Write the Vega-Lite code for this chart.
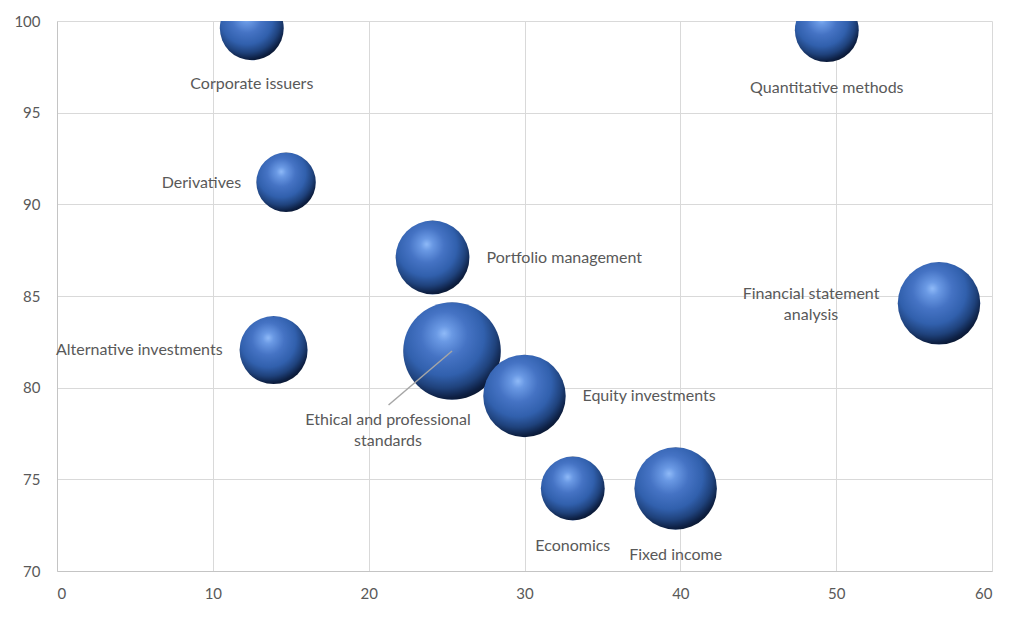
{
  "$schema": "https://vega.github.io/schema/vega-lite/v6.json",
  "width": 935,
  "height": 550,
  "autosize": {"type": "none"},
  "padding": {"left": 57, "top": 21, "right": 32, "bottom": 46},
  "background": "white",
  "config": {
    "font": "Lato",
    "view": {"stroke": null},
    "axis": {
      "grid": true,
      "gridColor": "#d9d9d9",
      "gridWidth": 1,
      "domainColor": "#c4c4c4",
      "domainWidth": 1,
      "ticks": false,
      "labelColor": "#595959",
      "labelFont": "Lato",
      "labelFontSize": 15,
      "title": null
    }
  },
  "data": {
    "values": [
      {"topic": "Corporate issuers", "score": 99.6, "x": 12.5, "weight": 7.5},
      {"topic": "Quantitative methods", "score": 99.5, "x": 49.4, "weight": 7.5},
      {"topic": "Derivatives", "score": 91.2, "x": 14.7, "weight": 6.5},
      {"topic": "Portfolio management", "score": 87.1, "x": 24.1, "weight": 10},
      {"topic": "Financial statement analysis", "score": 84.6, "x": 56.6, "weight": 12.5},
      {"topic": "Alternative investments", "score": 82.05, "x": 13.9, "weight": 8.5},
      {"topic": "Ethical and professional standards", "score": 82.0, "x": 25.35, "weight": 17.5},
      {"topic": "Equity investments", "score": 79.55, "x": 30.0, "weight": 12.5},
      {"topic": "Economics", "score": 74.5, "x": 33.1, "weight": 7.5},
      {"topic": "Fixed income", "score": 74.5, "x": 39.7, "weight": 12.5}
    ]
  },
  "encoding": {
    "x": {
      "field": "x",
      "type": "quantitative",
      "scale": {"domain": [0, 60], "nice": false, "zero": false},
      "axis": {"values": [0, 10, 20, 30, 40, 50, 60], "labelPadding": 15}
    },
    "y": {
      "field": "score",
      "type": "quantitative",
      "scale": {"domain": [70, 100], "nice": false, "zero": false},
      "axis": {"values": [70, 75, 80, 85, 90, 95, 100], "labelPadding": 17}
    }
  },
  "layer": [
    {
      "mark": {
        "type": "circle",
        "clip": true,
        "opacity": 1,
        "stroke": null,
        "fill": {
          "gradient": "radial",
          "x1": 0.42, "y1": 0.32, "r1": 0,
          "x2": 0.42, "y2": 0.36, "r2": 0.68,
          "stops": [
            {"offset": 0, "color": "#8fbaf8"},
            {"offset": 0.12, "color": "#6a99e4"},
            {"offset": 0.35, "color": "#4573c4"},
            {"offset": 0.6, "color": "#3160ad"},
            {"offset": 0.78, "color": "#1f427c"},
            {"offset": 0.92, "color": "#0d1f42"},
            {"offset": 1, "color": "#09152c"}
          ]
        }
      },
      "encoding": {
        "size": {
          "field": "weight",
          "type": "quantitative",
          "scale": {"domain": [0, 17.5], "range": [0, 9526]},
          "legend": null
        }
      }
    },
    {
      "transform": [{"filter": "datum.topic === 'Ethical and professional standards'"}],
      "mark": {
        "type": "point",
        "shape": "M0,0L-1.27,1.08",
        "size": 10000,
        "filled": false,
        "fill": null,
        "stroke": "#a6a6a6",
        "strokeWidth": 1.5,
        "opacity": 1
      }
    },
    {
      "mark": {
        "type": "text",
        "fontSize": 16,
        "color": "#595959",
        "baseline": "middle",
        "lineHeight": 21,
        "align": {"expr": "indexof(['Derivatives', 'Alternative investments'], datum.topic) >= 0 ? 'right' : indexof(['Portfolio management', 'Equity investments'], datum.topic) >= 0 ? 'left' : 'center'"},
        "dx": {"expr": "datum.topic === 'Derivatives' ? -45 : datum.topic === 'Alternative investments' ? -51 : datum.topic === 'Portfolio management' ? 54 : datum.topic === 'Equity investments' ? 58 : datum.topic === 'Financial statement analysis' ? -128 : datum.topic === 'Ethical and professional standards' ? -64 : 0"},
        "dy": {"expr": "datum.topic === 'Corporate issuers' ? 56 : datum.topic === 'Quantitative methods' ? 58 : datum.topic === 'Economics' ? 57 : datum.topic === 'Fixed income' ? 66 : datum.topic === 'Ethical and professional standards' ? 68.5 : datum.topic === 'Derivatives' ? 1 : datum.topic === 'Financial statement analysis' ? -9.5 : 0"},
        "text": {"expr": "datum.topic === 'Financial statement analysis' ? ['Financial statement', 'analysis'] : datum.topic === 'Ethical and professional standards' ? ['Ethical and professional', 'standards'] : datum.topic"}
      }
    }
  ]
}
